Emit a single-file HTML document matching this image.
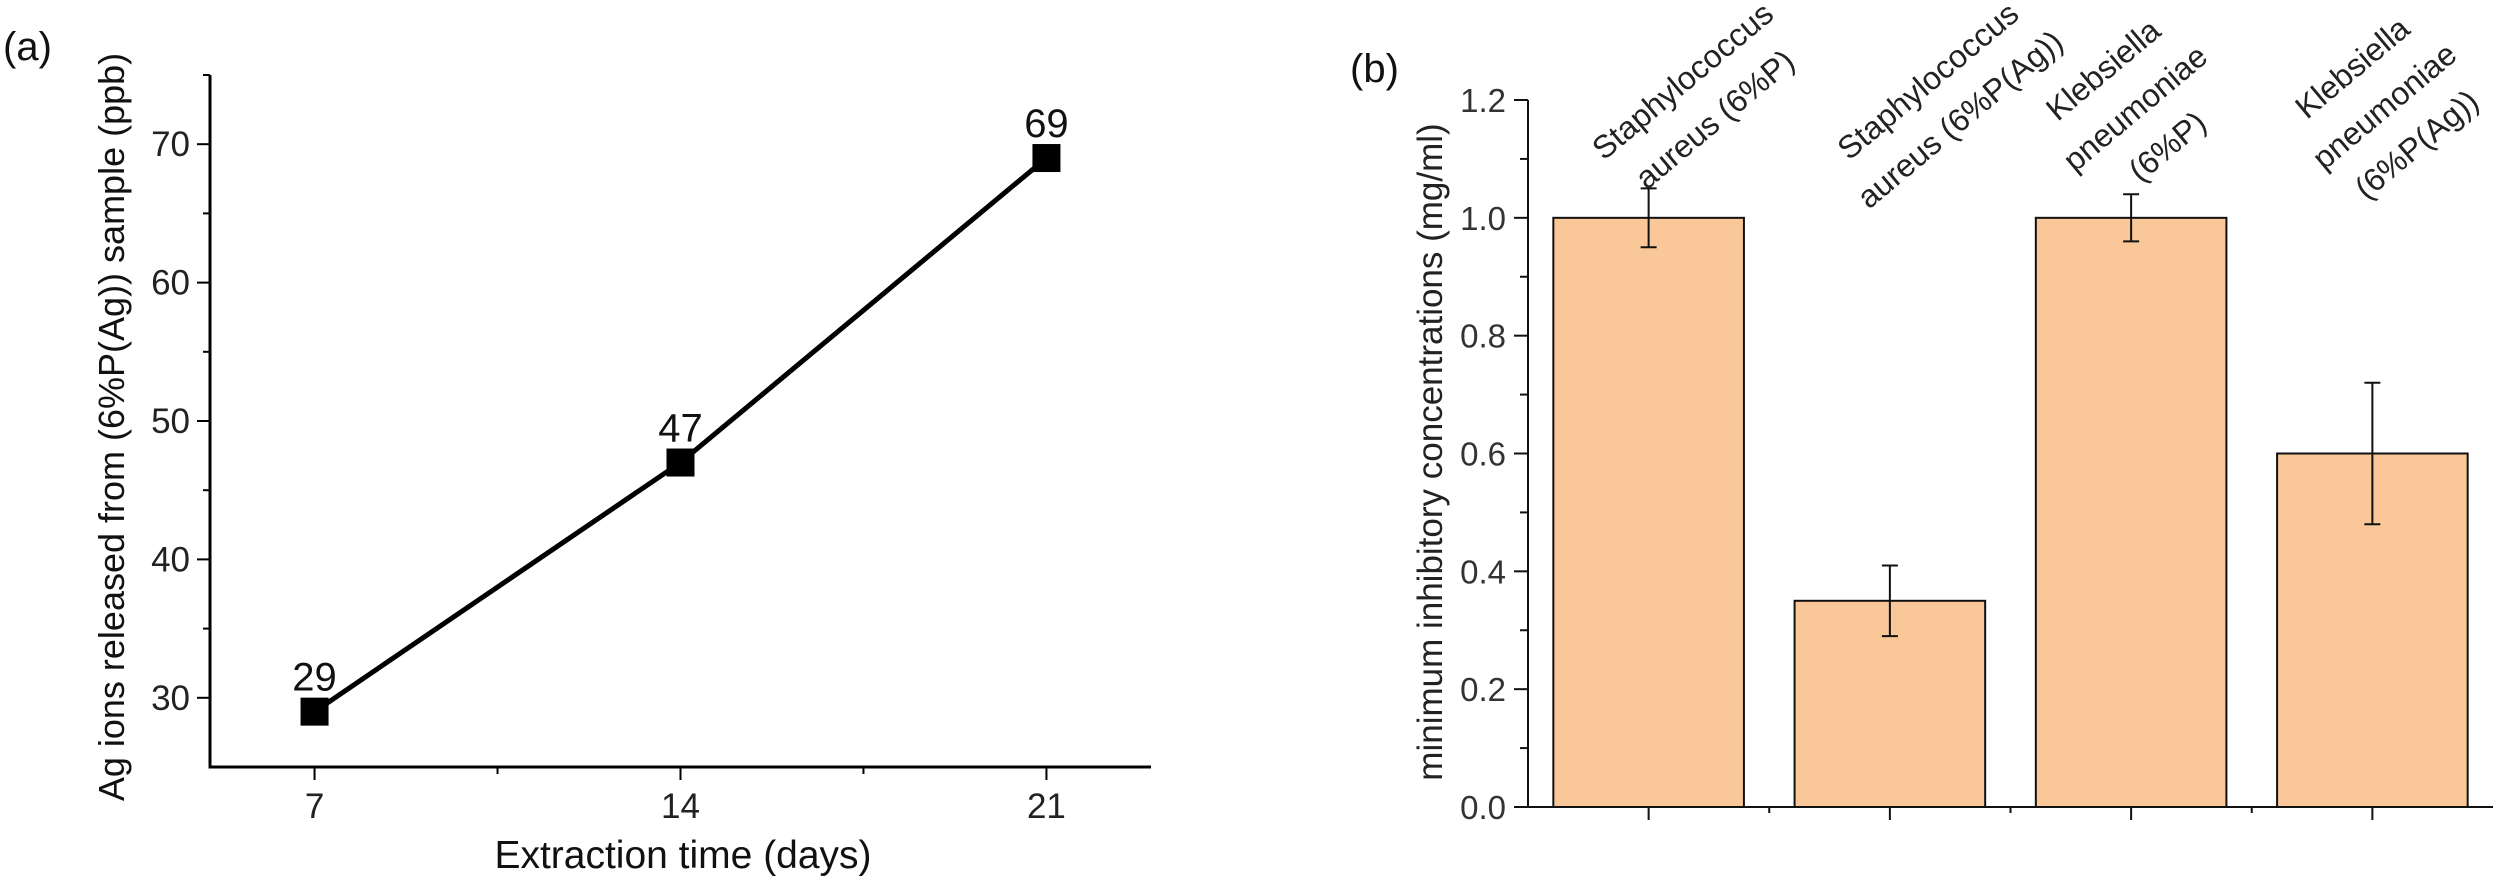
<!DOCTYPE html>
<html><head><meta charset="utf-8"><style>
html,body{margin:0;padding:0;background:#fff;}
svg{display:block;font-family:"Liberation Sans",Arial,sans-serif;}
</style></head><body>
<svg id="fig" width="2508" height="881" viewBox="0 0 2508 881">
<g id="pa"></g>
<g id="pb"></g>
</svg>
<script>
const aDays = [7, 14, 21];
const aValues = [29, 47, 69];
const aYTicks = [30, 40, 50, 60, 70];
const aXTicks = [7, 14, 21];

const bCategories = [
  ["Staphylococcus", "aureus (6%P)"],
  ["Staphylococcus", "aureus (6%P(Ag))"],
  ["Klebsiella", "pneumoniae", "(6%P)"],
  ["Klebsiella", "pneumoniae", "(6%P(Ag))"]
];
const bValues = [1.0, 0.35, 1.0, 0.6];
const bErrors = [0.05, 0.06, 0.04, 0.12];
const bYTicks = [0.0, 0.2, 0.4, 0.6, 0.8, 1.0, 1.2];

const NS = "http://www.w3.org/2000/svg";
function mk(parent, tag, attrs, text) {
  const e = document.createElementNS(NS, tag);
  for (const k in attrs) e.setAttribute(k, attrs[k]);
  if (text !== undefined) e.textContent = text;
  parent.appendChild(e);
  return e;
}

/* ---------- Panel A ---------- */
const pa = document.getElementById('pa');
const ax = { x0: 210, x1: 1151, y0: 767, y1: 75, xmin: 5, xmax: 23, ymin: 25, ymax: 75 };
const sxA = v => ax.x0 + (v - ax.xmin) / (ax.xmax - ax.xmin) * (ax.x1 - ax.x0);
const syA = v => ax.y0 - (v - ax.ymin) / (ax.ymax - ax.ymin) * (ax.y0 - ax.y1);

let t = mk(pa, 'text', { x: 3, y: 60, 'font-size': 40, fill: '#111' }, '(a)');



let axisA = mk(pa, 'path', { d: `M${ax.x0},${ax.y1} V${ax.y0} H${ax.x1}`, stroke: '#000', 'stroke-width': 3, fill: 'none' });



for (let v = 30; v <= 75; v += 5) {
  const major = aYTicks.includes(v);
  const tk = mk(pa, 'line', { x1: ax.x0 - (major ? 13 : 7), x2: ax.x0, y1: syA(v), y2: syA(v), stroke: '#000', 'stroke-width': 2 });
  
  
}
aYTicks.forEach(v => {
  const l = mk(pa, 'text', { x: 190, y: syA(v) + 12, 'font-size': 35, 'text-anchor': 'end', fill: '#222' }, String(v));
  
  
});
[7, 10.5, 14, 17.5, 21].forEach(v => {
  const major = aXTicks.includes(v);
  const tk = mk(pa, 'line', { x1: sxA(v), x2: sxA(v), y1: ax.y0, y2: ax.y0 + (major ? 13 : 7), stroke: '#000', 'stroke-width': 2 });
  
  
});
aXTicks.forEach(v => {
  const l = mk(pa, 'text', { x: sxA(v), y: 818, 'font-size': 35, 'text-anchor': 'middle', fill: '#222' }, String(v));
  
  
});
let ytA = mk(pa, 'text', { x: 0, y: 0, 'font-size': 36, 'text-anchor': 'middle', fill: '#111', transform: 'translate(124,427) rotate(-90)' }, 'Ag ions released from (6%P(Ag)) sample (ppb)');


let xtA = mk(pa, 'text', { x: 683, y: 868, 'font-size': 39, 'text-anchor': 'middle', fill: '#111' }, 'Extraction time (days)');



let pts = aDays.map((d, i) => `${sxA(d)},${syA(aValues[i])}`).join(' ');
let line = mk(pa, 'polyline', { points: pts, fill: 'none', stroke: '#000', 'stroke-width': 5 });


aDays.forEach((d, i) => {
  const m = mk(pa, 'rect', { x: sxA(d) - 14, y: syA(aValues[i]) - 14, width: 28, height: 28, fill: '#000' });
  
  
  const l = mk(pa, 'text', { x: sxA(d), y: syA(aValues[i]) - 21, 'font-size': 40, 'text-anchor': 'middle', fill: '#111' }, String(aValues[i]));
  
  
});

/* ---------- Panel B ---------- */
const pb = document.getElementById('pb');
const bx = { x0: 1528, x1: 2493, y0: 807, y1: 100, ymin: 0, ymax: 1.2 };
const syB = v => bx.y0 - (v - bx.ymin) / (bx.ymax - bx.ymin) * (bx.y0 - bx.y1);
const band = (bx.x1 - bx.x0) / bCategories.length;
const cxB = i => bx.x0 + band * (i + 0.5);
const barW = band * 0.79;

let tb = mk(pb, 'text', { x: 1350, y: 82, 'font-size': 40, fill: '#111' }, '(b)');



bValues.forEach((v, i) => {
  const r = mk(pb, 'rect', { x: cxB(i) - barW / 2, y: syB(v), width: barW, height: syB(0) - syB(v), fill: '#fac898', stroke: '#111', 'stroke-width': 2 });
  
  
  const hi = syB(v + bErrors[i]), lo = syB(v - bErrors[i]);
  const e = mk(pb, 'path', { d: `M${cxB(i)},${hi} V${lo} M${cxB(i) - 8},${hi} H${cxB(i) + 8} M${cxB(i) - 8},${lo} H${cxB(i) + 8}`, stroke: '#111', 'stroke-width': 2, fill: 'none' });
  
  
});

let axisB = mk(pb, 'path', { d: `M${bx.x0},${bx.y1} V${bx.y0} H${bx.x1}`, stroke: '#111', 'stroke-width': 2, fill: 'none' });


for (let k = 0; k <= 12; k++) {
  const v = k / 10;
  const major = k % 2 === 0;
  const tk = mk(pb, 'line', { x1: bx.x0 - (major ? 14 : 8), x2: bx.x0, y1: syB(v), y2: syB(v), stroke: '#111', 'stroke-width': 2 });
  
  
}
bYTicks.forEach(v => {
  const l = mk(pb, 'text', { x: 1506, y: syB(v) + 12, 'font-size': 33, 'text-anchor': 'end', fill: '#333' }, v.toFixed(1));
  
  
});
for (let i = 0; i < bCategories.length; i++) {
  const tk = mk(pb, 'line', { x1: cxB(i), x2: cxB(i), y1: bx.y0, y2: bx.y0 + 13, stroke: '#111', 'stroke-width': 2 });
  
  
  if (i > 0) {
    const mt = mk(pb, 'line', { x1: bx.x0 + band * i, x2: bx.x0 + band * i, y1: bx.y0, y2: bx.y0 + 6, stroke: '#111', 'stroke-width': 2 });
    
    
  }
}
let ytB = mk(pb, 'text', { x: 0, y: 0, 'font-size': 35, 'text-anchor': 'middle', fill: '#222', transform: 'translate(1442,452) rotate(-90)' }, 'minimum inhibitory concentrations (mg/ml)');



const ang = 40, L = 50;
const px = Math.sin(ang * Math.PI / 180), py = Math.cos(ang * Math.PI / 180);
const labelOffX = [50, 54, 4, 12], labelY = [100, 100, 108, 106];
bCategories.forEach((lines, i) => {
  const cx = cxB(i) + labelOffX[i], cy = labelY[i];
  const g = mk(pb, 'g', {});
  
  
  lines.forEach((s, k) => {
    const o = (k - (lines.length - 1) / 2) * L;
    const x = cx + o * px, y = cy + o * py;
    mk(g, 'text', { x: 0, y: 11, 'font-size': 32, 'text-anchor': 'middle', fill: '#222', transform: `translate(${x},${y}) rotate(-${ang})` }, s);
  });
});
</script>
</body></html>
